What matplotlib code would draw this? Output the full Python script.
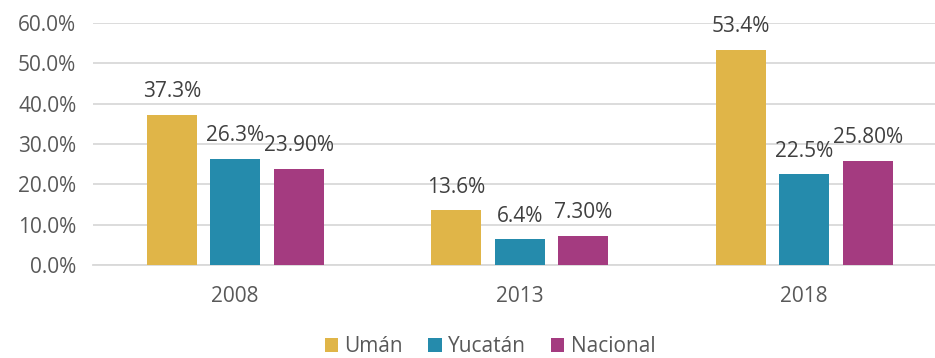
import numpy as np
import matplotlib
matplotlib.use("Agg")
import matplotlib.pyplot as plt

years = ["2008", "2013", "2018"]
series = ["Umán", "Yucatán", "Nacional"]
uman = [37.3, 13.6, 53.4]
yucatan = [26.3, 6.4, 22.5]
nacional = [23.9, 7.3, 25.8]
labels_uman = ["37.3%", "13.6%", "53.4%"]
labels_yucatan = ["26.3%", "6.4%", "22.5%"]
labels_nacional = ["23.90%", "7.30%", "25.80%"]
yticks = [0, 10, 20, 30, 40, 50, 60]

colors = ["#E0B548", "#258BAC", "#A43B80"]
TICK_COLOR = "#595959"
LABEL_COLOR = "#404040"
GRID_COLOR = "#D9D9D9"
FS = 15

plt.rcParams["font.family"] = ["Open Sans", "DejaVu Sans"]

W, H = 935, 358
fig = plt.figure(figsize=(W / 100, H / 100), dpi=100)
# axes box in pixels: left 93, right 946.5, top 23, bottom 265
ax = fig.add_axes([93 / W, 1 - 265 / H, 853.5 / W, 242 / H])

x = np.arange(len(years))
width = 0.176
step = 0.223
data = [uman, yucatan, nacional]
texts = [labels_uman, labels_yucatan, labels_nacional]
handles = []
for i, (vals, labs, c) in enumerate(zip(data, texts, colors)):
    pos = x + (i - 1) * step
    bars = ax.bar(pos, vals, width, color=c, label=series[i], zorder=3)
    handles.append(bars)
    for p, v, t in zip(pos, vals, labs):
        ax.annotate(t, (p, v), xytext=(0, 9), textcoords="offset points",
                    ha="center", va="bottom", fontsize=FS, color=LABEL_COLOR)

ax.set_xlim(-0.5, 2.5)
ax.set_ylim(0, 60)
ax.set_yticks(yticks)
ax.set_yticklabels([f"{v:.1f}%" for v in yticks])
ax.set_xticks(x)
ax.set_xticklabels(years)
ax.grid(axis="y", color=GRID_COLOR, linewidth=1.3, zorder=0)
ax.set_axisbelow(True)
for side in ["top", "right", "left"]:
    ax.spines[side].set_visible(False)
ax.spines["bottom"].set_color(GRID_COLOR)
ax.spines["bottom"].set_linewidth(1.3)
ax.tick_params(axis="both", length=0, labelsize=FS, labelcolor=TICK_COLOR)
ax.tick_params(axis="x", pad=15)
ax.tick_params(axis="y", pad=12)

fig.legend(handles=handles, labels=series, loc="center",
           bbox_to_anchor=(490 / W, 1 - 347 / H), ncol=3, frameon=False,
           fontsize=FS, handlelength=0.65, handleheight=0.65,
           handletextpad=0.3, columnspacing=1.2, labelcolor=TICK_COLOR)

fig.savefig("out.png", dpi=100)
